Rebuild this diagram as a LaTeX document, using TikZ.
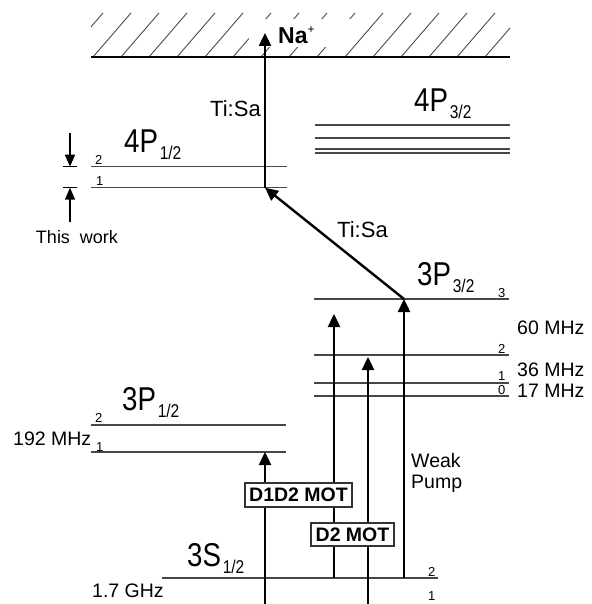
\documentclass[tikz,border=0pt]{standalone}
\usepackage{fontspec}
\setmainfont{Liberation Sans}
\usetikzlibrary{arrows.meta}
\newcommand\termlbl[2]{\scalebox{0.84}[1]{\fontsize{33}{33}\selectfont #1\kern2pt\raisebox{-7pt}{\fontsize{18.5}{18.5}\selectfont #2}}}
\begin{document}
\begin{tikzpicture}[x=1pt,y=-1pt,
  lvl/.style={draw=black!72, line width=1.1pt},
  beam/.style={line width=2.4pt, -{Triangle[width=12pt,length=13pt]}},
  thinarr/.style={line width=1.5pt, -{Triangle[width=10pt,length=12pt]}},
  txt/.style={inner sep=0pt, anchor=base west, font=\fontsize{19.5}{19.5}\selectfont},
  num/.style={inner sep=0pt, anchor=base west, font=\fontsize{13}{13}\selectfont},
  term/.style={inner sep=0pt, anchor=base west},
  mot/.style={draw=black!80, line width=1.2pt, fill=white, inner sep=0pt, font=\bfseries\fontsize{19.5}{19.5}\selectfont},
]
\useasboundingbox (0,0) rectangle (591,604);

% ionisation continuum
\begin{scope}
\clip (91,13) rectangle (510,57);
\foreach \b in {9,37,...,521} \draw[black!70, line width=0.9pt] (\b,57) -- ++(38,-44);
\end{scope}
\fill[white] (249,19) rectangle (352,47);
\coordinate (ionL) at (91,57); \coordinate (ionR) at (510,57);
\draw[line width=1.3pt] (ionL) -- (ionR);

% 4P3/2
\foreach \y [count=\i] in {125,138,149,153} {
  \coordinate (q\i L) at (315,\y); \coordinate (q\i R) at (510,\y);
  \draw[lvl] (q\i L) -- (q\i R);
}
\node[term] (t4p32) at (414,112) {\termlbl{4P}{3/2}};

% 4P1/2
\coordinate (a2L) at (91,166.7); \coordinate (a2R) at (287,166.7);
\coordinate (a1L) at (91,187.7); \coordinate (a1R) at (287,187.7);
\draw[lvl] (a2L) -- (a2R);
\draw[lvl] (a1L) -- (a1R);
\node[term] (t4p12) at (124,153) {\termlbl{4P}{1/2}};
\node[num] (n4a2) at (95,164.5) {2};
\node[num] (n4a1) at (96,185) {1};

% 3P3/2
\foreach \y/\n in {299/3,355/2,383/1,396/0} {
  \coordinate (h\n L) at (314,\y); \coordinate (h\n R) at (509,\y);
  \draw[lvl] (h\n L) -- (h\n R);
}
\node[num] (nh3) at (498,297) {3};
\node[num] (nh2) at (498,353) {2};
\node[num] (nh1) at (498,380.5) {1};
\node[num] (nh0) at (498,394) {0};
\node[term] (t3p32) at (417,285) {\termlbl{3P}{3/2}};
\node[txt] (f60) at (517,334) {60 MHz};
\node[txt] (f36) at (517,376) {36 MHz};
\node[txt] (f17) at (517,397) {17 MHz};

% 3P1/2
\coordinate (d2L) at (91,425); \coordinate (d2R) at (286,425);
\coordinate (d1L) at (91,452); \coordinate (d1R) at (286,452);
\draw[lvl] (d2L) -- (d2R);
\draw[lvl] (d1L) -- (d1R);
\node[term] (t3p12) at (122,410) {\termlbl{3P}{1/2}};
\node[num] (nd2) at (95,422.5) {2};
\node[num] (nd1) at (96,451) {1};
\node[txt] (f192) at (13,445.5) {192 MHz};

% 3S1/2
\coordinate (g2L) at (162,578); \coordinate (g2R) at (438,578);
\draw[lvl] (g2L) -- (g2R);
\node[term] (t3s12) at (187,566) {\termlbl{3S}{1/2}};
\node[num] (ng2) at (428,576) {2};
\node[num] (ng1) at (428,600.5) {1};
\node[txt] (f17g) at (92,597) {1.7 GHz};

% beams
\coordinate (ion) at (265,33);
\coordinate (p1) at (265,187.7);
\coordinate (s3) at (404,299);
\coordinate (bA) at (265,606); \coordinate (tA) at (265,452);
\coordinate (bB) at (334,578); \coordinate (tB) at (334,314);
\coordinate (bC) at (368,606); \coordinate (tC) at (368,357);
\coordinate (bD) at (404,578);

\draw[beam] (bA) -- (tA);
\draw[beam] (bB) -- (tB);
\draw[beam] (bC) -- (tC);
\draw[beam] (bD) -- (s3);
\draw[beam] (s3) -- (p1);
\draw[beam] (p1) -- (ion);

\node[inner sep=0pt, anchor=base west, font=\bfseries\fontsize{23}{23}\selectfont] (na) at (278,44) {Na\raisebox{10pt}{\mdseries\fontsize{12}{12}\selectfont +}};
\node[txt, font=\fontsize{22}{22}\selectfont] (tisa1) at (210,117) {Ti:Sa};
\node[txt, font=\fontsize{22}{22}\selectfont] (tisa2) at (337,237) {Ti:Sa};

\node[mot, minimum width=107pt, minimum height=24pt] (m12) at (298.5,495) {D1D2 MOT};
\node[mot, minimum width=83pt, minimum height=23pt] (m2) at (352.5,534.5) {D2 MOT};

\node[txt] (weak) at (411,467) {Weak};
\node[txt] (pump) at (411,488) {Pump};

% this work
\coordinate (wTop) at (70,133); \coordinate (wBot) at (70,222);
\coordinate (k2L) at (63,166.7); \coordinate (k2R) at (77,166.7);
\coordinate (k1L) at (63,187.7); \coordinate (k1R) at (77,187.7);
\coordinate (k2) at (70,166.7); \coordinate (k1) at (70,187.7);
\draw[line width=1.2pt] (k2L) -- (k2R);
\draw[line width=1.2pt] (k1L) -- (k1R);
\draw[thinarr] (wTop) -- (k2);
\draw[thinarr] (wBot) -- (k1);
\node[inner sep=0pt, anchor=base, font=\fontsize{18}{18}\selectfont] (tw) at (77,243) {This\ \ work};
\end{tikzpicture}
\end{document}
